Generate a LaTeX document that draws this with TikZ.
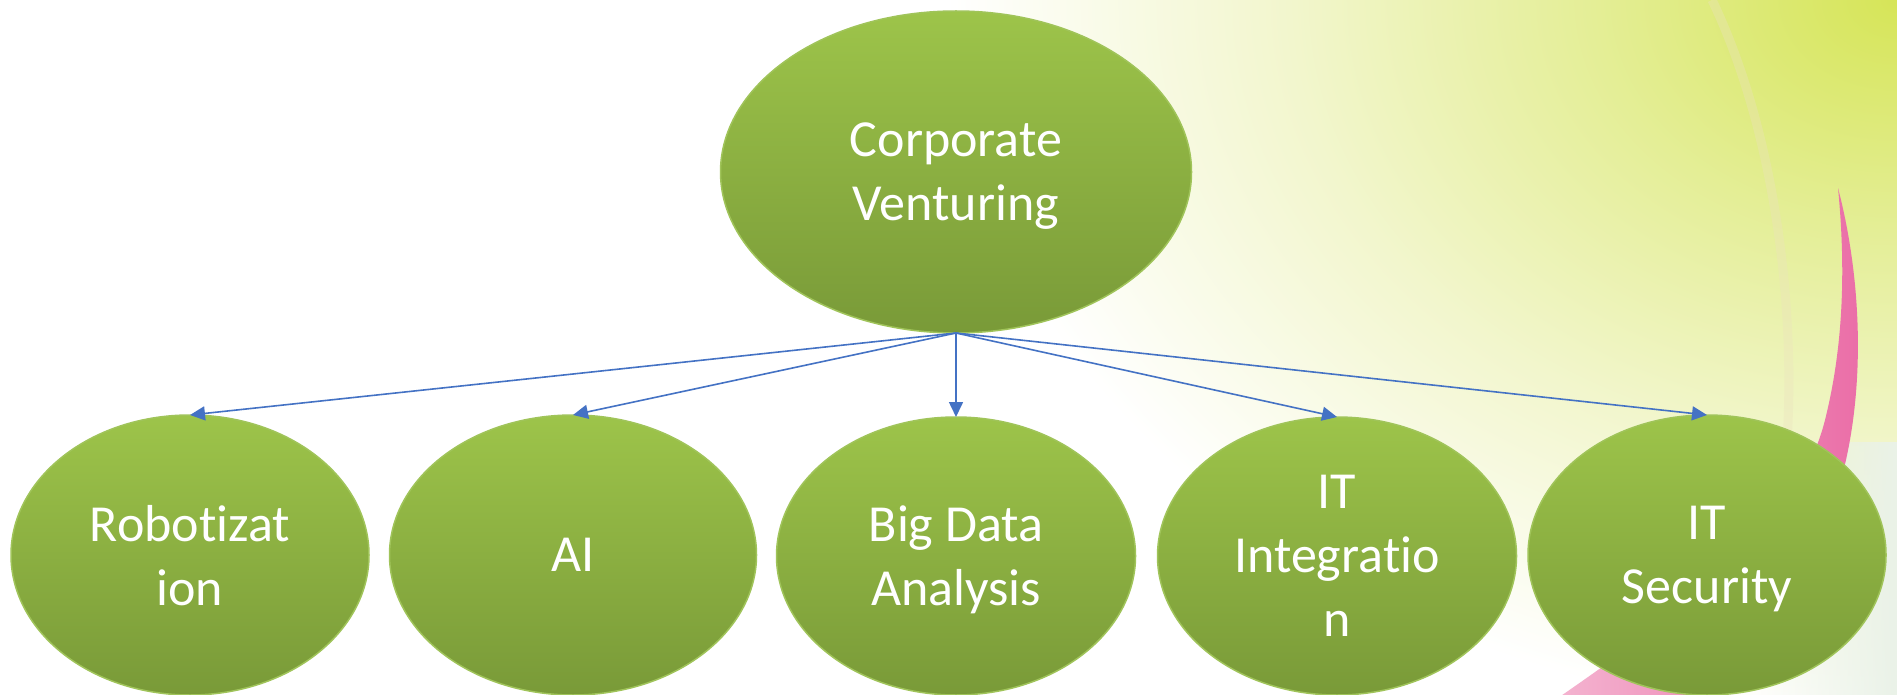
\documentclass[tikz,border=0pt]{standalone}
\usepackage{fontspec}
\setmainfont[Ligatures=CommonOff]{Carlito}
\usetikzlibrary{shapes.geometric,arrows.meta,fadings}
\definecolor{bgA}{RGB}{214,229,88}
\definecolor{bgB}{RGB}{228,238,150}
\definecolor{bgC}{RGB}{242,246,205}
\definecolor{bgD}{RGB}{255,255,255}
\pgfdeclareradialshading{bgtr}{\pgfpoint{0bp}{0bp}}{color(0bp)=(bgA); color(8bp)=(bgB); color(16bp)=(bgC); color(25bp)=(bgD); color(50bp)=(bgD)}
\definecolor{gTop}{RGB}{157,196,74}
\definecolor{gBot}{RGB}{121,154,56}
\definecolor{gEdge}{RGB}{160,196,90}
\definecolor{arrowblue}{RGB}{68,114,196}
\definecolor{pinkA}{RGB}{244,180,208}
\definecolor{pinkB}{RGB}{234,108,166}
\definecolor{bandc}{RGB}{234,242,232}
\definecolor{beigec}{RGB}{236,226,190}
\tikzset{
  bubble/.style={ellipse, shade, top color=gTop, bottom color=gBot, draw=gEdge,
    line width=1.5pt, inner sep=0pt, outer sep=0pt, text=white, align=center,
    text depth=0pt, font=\fontsize{52}{64}\selectfont},
  link/.style={draw=arrowblue, line width=1.6pt, -{Triangle[length=15pt,width=14pt]}}
}
\begin{document}
\begin{tikzpicture}[x=1pt,y=-1pt]
\useasboundingbox (0,0) rectangle (1897,695);
\begin{scope}
  \clip (0,0) rectangle (1897,695);
  \fill[white] (0,0) rectangle (1897,695);
  \shade[shading=bgtr] (1897,0) ellipse [x radius=950, y radius=720];
  \fill[bandc, path fading=west] (1760,442) rectangle (1897,695);
  \draw[beigec, line width=9pt, opacity=0.35] (1712,0) .. controls (1770,120) and (1800,300) .. (1785,470);
  \shade[left color=pinkA, right color=pinkB]
    (1838,188) .. controls (1862,280) and (1868,400) .. (1835,500)
    .. controls (1800,600) and (1720,660) .. (1680,700)
    -- (1555,700)
    .. controls (1700,600) and (1800,520) .. (1825,420)
    .. controls (1845,340) and (1845,260) .. (1838,188) -- cycle;
\end{scope}
\node[bubble, minimum width=471pt, minimum height=322pt] (cv) at (956,172) {Corporate\\Venturing};
\node[bubble, minimum width=358pt, minimum height=280pt] (rob) at (190,555) {Robotizat\\ion};
\node[bubble, minimum width=367pt, minimum height=280pt] (ai) at (573,555) {AI};
\node[bubble, minimum width=359pt, minimum height=278pt] (bda) at (956,556) {Big Data\\Analysis};
\node[bubble, minimum width=359pt, minimum height=278pt] (iti) at (1337,556) {IT\\Integratio\\n};
\node[bubble, minimum width=358pt, minimum height=280pt] (its) at (1707,555) {IT\\Security};
\draw[link] (cv.south) -- (rob.north);
\draw[link] (cv.south) -- (ai.north);
\draw[link] (cv.south) -- (bda.north);
\draw[link] (cv.south) -- (iti.north);
\draw[link] (cv.south) -- (its.north);
\end{tikzpicture}
\end{document}
